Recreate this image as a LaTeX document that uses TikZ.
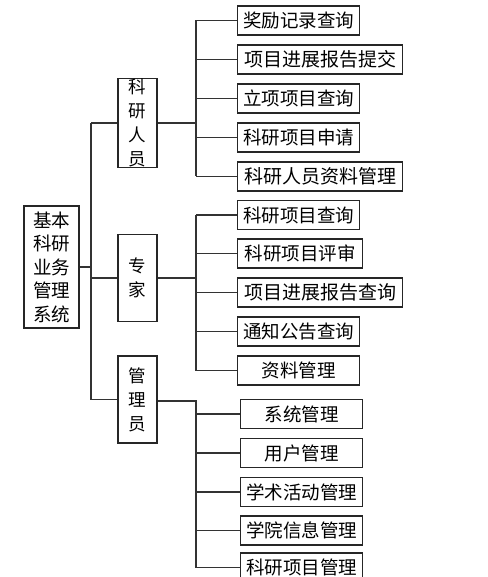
\documentclass[tikz,border=0pt]{standalone}
\usepackage{fontspec}
\newfontfamily\cjk{Noto Sans CJK SC}
\begin{document}
\begin{tikzpicture}[x=1pt,y=-1pt,
  box/.style={draw=black!85,line width=1.1pt,rectangle,inner sep=0pt,font=\cjk},
  leaf/.style={box,anchor=west,minimum height=29pt,font=\cjk\fontsize{18.5}{20}\selectfont},
  wide/.style={leaf,minimum width=165pt,font=\cjk\fontsize{19}{20}\selectfont},
  mid/.style={box,minimum width=39pt,minimum height=87pt,align=center,font=\cjk\fontsize{17.5}{24}\selectfont},
  link/.style={draw=black!80,line width=1.1pt}]
\useasboundingbox (0,0) rectangle (487,577);
% root
\node[box,minimum width=55pt,minimum height=122pt,align=center,font=\cjk\fontsize{18.5}{23.5}\selectfont] (root) at (51.5,267) {基本\\科研\\业务\\管理\\系统};
% level 2
\node[mid] (k) at (137.5,123) {科\\研\\人\\员};
\node[mid] (z) at (137.5,278) {专\\家};
\node[mid] (g) at (137.5,399.5) {管\\理\\员};
% leaves of k
\node[leaf,minimum width=122pt] (k1) at (237,20.5) {奖励记录查询};
\node[wide] (k2) at (237,59.5) {项目进展报告提交};
\node[leaf,minimum width=122pt] (k3) at (237,98.5) {立项项目查询};
\node[leaf,minimum width=122pt] (k4) at (237,137.5) {科研项目申请};
\node[wide] (k5) at (237,176.5) {科研人员资料管理};
% leaves of z
\node[leaf,minimum width=122pt] (z1) at (237,215) {科研项目查询};
\node[leaf,minimum width=125pt] (z2) at (237,253.5) {科研项目评审};
\node[wide] (z3) at (237,292.5) {项目进展报告查询};
\node[leaf,minimum width=122pt] (z4) at (237,331.5) {通知公告查询};
\node[leaf,minimum width=122pt] (z5) at (237,370.5) {资料管理};
% leaves of g
\node[leaf,minimum width=122pt] (g1) at (240,414) {系统管理};
\node[leaf,minimum width=122pt] (g2) at (240,453) {用户管理};
\node[leaf,minimum width=122pt] (g3) at (240,492) {学术活动管理};
\node[leaf,minimum width=122pt] (g4) at (240,530.5) {学院信息管理};
\node[leaf,minimum width=122pt] (g5) at (240,567.5) {科研项目管理};
% bus coordinates
\coordinate (T) at (91,0);
\coordinate (B) at (196,0);
% root to level 2
\draw[link] (root.east) -- (root.east -| T);
\draw[link] (k.west -| T) -- (g.west -| T);
\foreach \n in {k,z,g} \draw[link] (\n.west -| T) -- (\n.west);
% k bus
\draw[link] (k.east) -- (k.east -| B);
\draw[link] (k1.west -| B) -- (k5.west -| B);
\foreach \n in {k1,k2,k3,k4,k5} \draw[link] (\n.west -| B) -- (\n.west);
% z bus
\draw[link] (z.east) -- (z.east -| B);
\draw[link] (z1.west -| B) -- (z5.west -| B);
\foreach \n in {z1,z2,z3,z4,z5} \draw[link] (\n.west -| B) -- (\n.west);
% g bus
\draw[link] ([yshift=-1.5pt]g.east) -- ([yshift=-1.5pt]g.east -| B) -- (g5.west -| B);
\foreach \n in {g1,g2,g3,g4,g5} \draw[link] (\n.west -| B) -- (\n.west);
\end{tikzpicture}
\end{document}
